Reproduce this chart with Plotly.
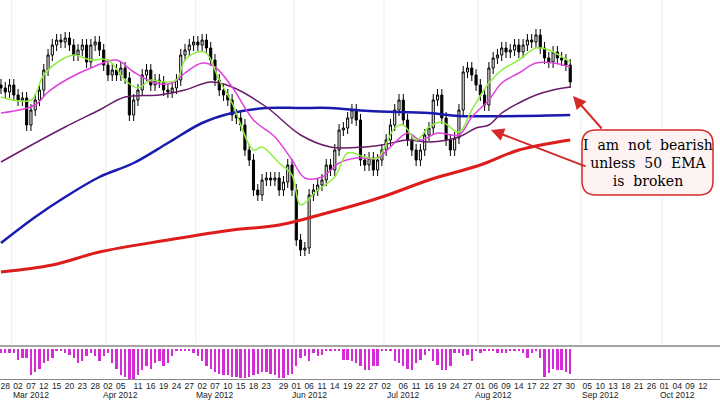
import numpy as np
import pandas as pd
import plotly.graph_objects as go

# closes as chart level (higher = up)
close_y = [88,92,85,95,100,98,125,110,100,90,70,55,45,40,42,38,45,55,50,45,
           62,45,42,50,65,75,70,75,68,78,115,100,90,75,70,85,80,82,90,92,
           88,80,55,50,45,42,45,40,48,60,80,90,95,100,115,118,125,150,160,190,
           195,180,178,180,178,190,182,165,190,240,250,248,195,190,185,180,165,170,150,130,
           128,118,110,120,160,165,158,170,160,150,140,125,110,100,120,140,150,160,150,135,
           128,100,95,118,140,150,138,110,72,68,75,85,95,105,68,58,55,48,52,50,
           45,52,45,40,42,35,48,58,62,52,58,60,65,82]
TOP = 400
closes = TOP - np.array(close_y, float)
opens = np.concatenate([[TOP - 85], closes[:-1]])
highs = np.maximum(opens, closes) + 6
lows = np.minimum(opens, closes) - 6

osc = [4,4,4,4,11,9,9,27,24,21,14,12,9,1,1,4,6,9,14,12,7,4,7,12,7,4,14,21,27,29,
       31,31,27,22,17,21,14,12,17,14,7,1,1,2,2,4,7,12,17,21,24,26,27,27,29,29,30,30,29,27,
       26,24,24,26,27,30,30,27,26,17,9,7,12,4,7,6,1,1,2,1,11,11,12,14,
       17,22,22,17,17,1,1,2,12,14,17,21,22,14,11,6,2,12,16,22,
       22,17,4,4,7,6,12,2,4,2,2,1,4,4,4,2,1,1,4,9,4,2,9,29,25,21,22,22,24,26]
osc = osc[:len(close_y)]

g_i = [0,7,10,14,17,21,25,29,32,35,38,41,43,46,48,51,54,59,61,65,68,70,74,78,81,85,88,92,94,97,100,103,107,110,114,117,121,125,128,133]
g_y = [97,100,75,60,55,60,60,80,88,80,82,80,60,52,53,80,103,150,147,163,175,205,190,177,153,157,158,128,125,140,127,122,132,110,83,70,60,48,50,62]
m_i = [0,8,11,16,21,27,31,36,40,43,47,50,54,59,64,68,71,75,79,83,88,91,95,98,102,107,110,114,117,121,125,129,133]
m_y = [113,105,92,78,68,60,72,83,83,73,63,67,87,120,137,160,178,177,163,158,158,147,133,140,133,135,117,100,83,73,63,63,67]
p_i = [0,8,15,23,29,37,43,49,54,62,70,77,85,89,95,100,107,111,114,117,121,125,129,133]
p_y = [162,143,127,110,97,95,90,82,87,107,135,147,147,145,140,142,137,128,125,113,103,95,90,87]
b_i = [0,8,15,23,31,39,47,54,62,70,77,86,100,107,121,133]
b_y = [243,217,197,177,163,143,123,113,108,108,108,111,113,116,116,115]
r_i = [0,12,23,39,54,65,77,89,100,112,121,133]
r_y = [272,265,252,240,230,225,212,197,180,165,150,140]

days = pd.bdate_range("2012-02-27", "2012-10-31")
tick_dates = ["2012-02-28","2012-03-02","2012-03-07","2012-03-12","2012-03-15","2012-03-20","2012-03-23","2012-03-28",
              "2012-04-02","2012-04-05","2012-04-11","2012-04-16","2012-04-19","2012-04-24","2012-04-27",
              "2012-05-02","2012-05-07","2012-05-10","2012-05-15","2012-05-18","2012-05-23","2012-05-29",
              "2012-06-01","2012-06-06","2012-06-11","2012-06-14","2012-06-19","2012-06-22","2012-06-27",
              "2012-07-02","2012-07-06","2012-07-11","2012-07-16","2012-07-19","2012-07-24","2012-07-27",
              "2012-08-01","2012-08-06","2012-08-09","2012-08-14","2012-08-17","2012-08-22","2012-08-27","2012-08-30",
              "2012-09-05","2012-09-10","2012-09-13","2012-09-18","2012-09-21","2012-09-26",
              "2012-10-01","2012-10-04","2012-10-09","2012-10-12","2012-10-17"]
month_labels = {"2012-03-07":"Mar 2012","2012-04-05":"Apr 2012","2012-05-07":"May 2012","2012-06-06":"Jun 2012",
                "2012-07-06":"Jul 2012","2012-08-06":"Aug 2012","2012-09-10":"Sep 2012","2012-10-04":"Oct 2012"}
month_starts = ["2012-03-01","2012-04-02","2012-05-01","2012-06-01","2012-07-02","2012-08-01","2012-09-04","2012-10-01"]

pos = {d.strftime("%Y-%m-%d"): i for i, d in enumerate(days)}
tickvals = [pos[d] for d in tick_dates]
ticktext = [pd.Timestamp(d).strftime("%d") for d in tick_dates]

n = len(close_y)
x = list(range(n))
fig = go.Figure()
fig.add_trace(go.Candlestick(x=x, open=opens, high=highs, low=lows, close=closes, xaxis="x2", yaxis="y2",
    increasing=dict(line=dict(color="black", width=1), fillcolor="white"),
    decreasing=dict(line=dict(color="black", width=1), fillcolor="black"), whiskerwidth=0))
def ma(ix, yy, color, w):
    fig.add_trace(go.Scatter(x=ix, y=TOP - np.array(yy, float), mode="lines", xaxis="x2", yaxis="y2",
        line=dict(color=color, width=w, shape="spline", smoothing=1.0), hoverinfo="skip"))
ma(r_i, r_y, "#dd1c1c", 3)
ma(b_i, b_y, "#1a1ab0", 2.5)
ma(p_i, p_y, "#6a1b6a", 1.5)
ma(m_i, m_y, "#e040e0", 1.5)
ma(g_i, g_y, "#90ee40", 1.5)
fig.add_trace(go.Bar(x=x, y=-np.array(osc, float), marker=dict(color="#d62ad6", line=dict(width=0)), width=0.55,
                     xaxis="x", yaxis="y"))

PH = 379  # plot area height (t=0, b=21)
def py(p):
    return 1 - p / PH
shapes = []
for d in month_starts:
    shapes.append(dict(type="line", xref="x2", yref="paper", x0=pos[d] - 0.5, x1=pos[d] - 0.5, y0=py(343), y1=1,
                       line=dict(color="#ececec", width=1), layer="below"))
shapes.append(dict(type="line", xref="paper", yref="paper", x0=0, x1=1, y0=py(346), y1=py(346),
                   line=dict(color="#888", width=1.5)))
x0, x1, y0, y1 = 582/720, 713/720, py(195), py(130)
rx, ry = 14/720, 14/PH
path = (f"M{x0+rx},{y0} L{x1-rx},{y0} Q{x1},{y0} {x1},{y0+ry} L{x1},{y1-ry} Q{x1},{y1} {x1-rx},{y1} "
        f"L{x0+rx},{y1} Q{x0},{y1} {x0},{y1-ry} L{x0},{y0+ry} Q{x0},{y0} {x0+rx},{y0} Z")
shapes.append(dict(type="path", xref="paper", yref="paper", path=path, line=dict(color="#d42a2a", width=1.5),
                   fillcolor="#fdf3f3"))

ann = [dict(xref="paper", yref="paper", x=648/720, y=py(163), xanchor="center", yanchor="middle",
            text="I  am  not  bearish<br>unless  50  EMA<br>is  broken",
            showarrow=False, font=dict(family="DejaVu Serif", size=14, color="black")),
       dict(xref="paper", yref="paper", x=573/720, y=py(96), ax=30, ay=34, text="", showarrow=True,
            arrowhead=2, arrowsize=1.3, arrowwidth=2, arrowcolor="#d42a2a"),
       dict(xref="paper", yref="paper", x=491/720, y=py(130), ax=96, ay=37, text="", showarrow=True,
            arrowhead=2, arrowsize=1.3, arrowwidth=2, arrowcolor="#d42a2a")]
for d, lab in month_labels.items():
    ann.append(dict(xref="x", yref="paper", x=pos[d], y=py(394.5), text=lab, showarrow=False,
                    xanchor="center", yanchor="middle", font=dict(family="Liberation Sans", size=8.5, color="#222")))

xr = [-0.23, 168]
fig.update_layout(width=720, height=400, margin=dict(l=0, r=0, t=0, b=21), showlegend=False,
    plot_bgcolor="white", paper_bgcolor="white", shapes=shapes, annotations=ann, bargap=0,
    xaxis=dict(range=xr, autorange=False, domain=[0, 1], anchor="y", tickvals=tickvals, ticktext=ticktext, showgrid=False,
               tickfont=dict(family="Liberation Sans", size=8.5, color="#222"), ticks="", showline=True,
               linecolor="#888", automargin=False, zeroline=False, ticklabelstandoff=-1),
    yaxis=dict(domain=[0, py(348)], range=[-31, 1.5], visible=False),
    xaxis2=dict(range=xr, autorange=False, domain=[0, 1], anchor="y2", showticklabels=False, showgrid=False,
                rangeslider=dict(visible=False), zeroline=False),
    yaxis2=dict(domain=[py(343), 1], range=[TOP-343, TOP], autorange=False, visible=False))
fig.write_html("out.html", config={"displayModeBar": False}, post_script="document.body.style.margin='0';")
